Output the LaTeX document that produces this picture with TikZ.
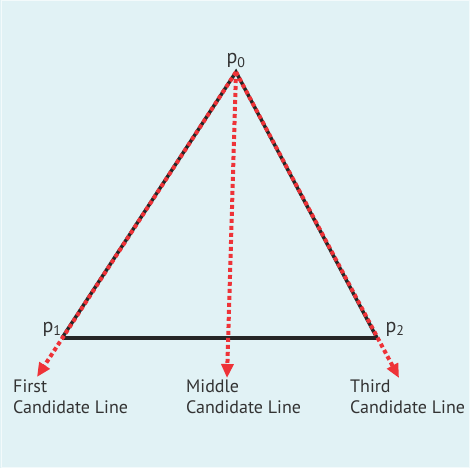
\documentclass[tikz,border=0pt]{standalone}
\usepackage{fontspec}
\setmainfont{PT Sans}
\usetikzlibrary{arrows.meta}
\definecolor{bgc}{HTML}{E1F2F5}
\definecolor{redd}{HTML}{EE3338}
\definecolor{txt}{HTML}{333333}
\tikzset{
  edge/.style={line width=3.5pt, black!85},
  cand/.style={line width=4pt, redd, dash pattern=on 4pt off 3pt, -{Triangle[length=14pt,width=12pt]}},
  lbl/.style={font=\fontsize{18}{21}\selectfont, text=txt, inner sep=0pt},
  plbl/.style={lbl, font=\fontsize{20}{22}\selectfont, anchor=base},
  captext/.style={lbl, align=left, anchor=base west}
}
\begin{document}
\begin{tikzpicture}[x=1pt,y=-1pt]
\fill[bgc] (0,0) rectangle (470,468);
\draw[white!60!bgc, line width=1pt] (1,1) rectangle (469,467);
\useasboundingbox (0,0) rectangle (470,468);
\coordinate (p0) at (236,72);
\coordinate (p1) at (62,338);
\coordinate (p2) at (377,338);
\coordinate (e1) at (37,377);
\coordinate (em) at (227,378);
\coordinate (e2) at (399,378);
\draw[edge, line join=miter] (p1) -- (p0) -- (p2);
\draw[edge] (p1) -- (p2);
\draw[cand] (p0) -- (e1);
\draw[cand] (p0) -- (em);
\draw[cand] (p0) -- (e2);
\node[plbl] (l0) at (236,64) {p\textsubscript{0}};
\node[plbl] (l1) at (52,332) {p\textsubscript{1}};
\node[plbl] (l2) at (395,332) {p\textsubscript{2}};
\node[captext] (c1) at (13,413) {First\\Candidate Line};
\node[captext] (c2) at (186,413) {Middle\\Candidate Line};
\node[captext] (c3) at (350,413) {Third\\Candidate Line};
\end{tikzpicture}
\end{document}
